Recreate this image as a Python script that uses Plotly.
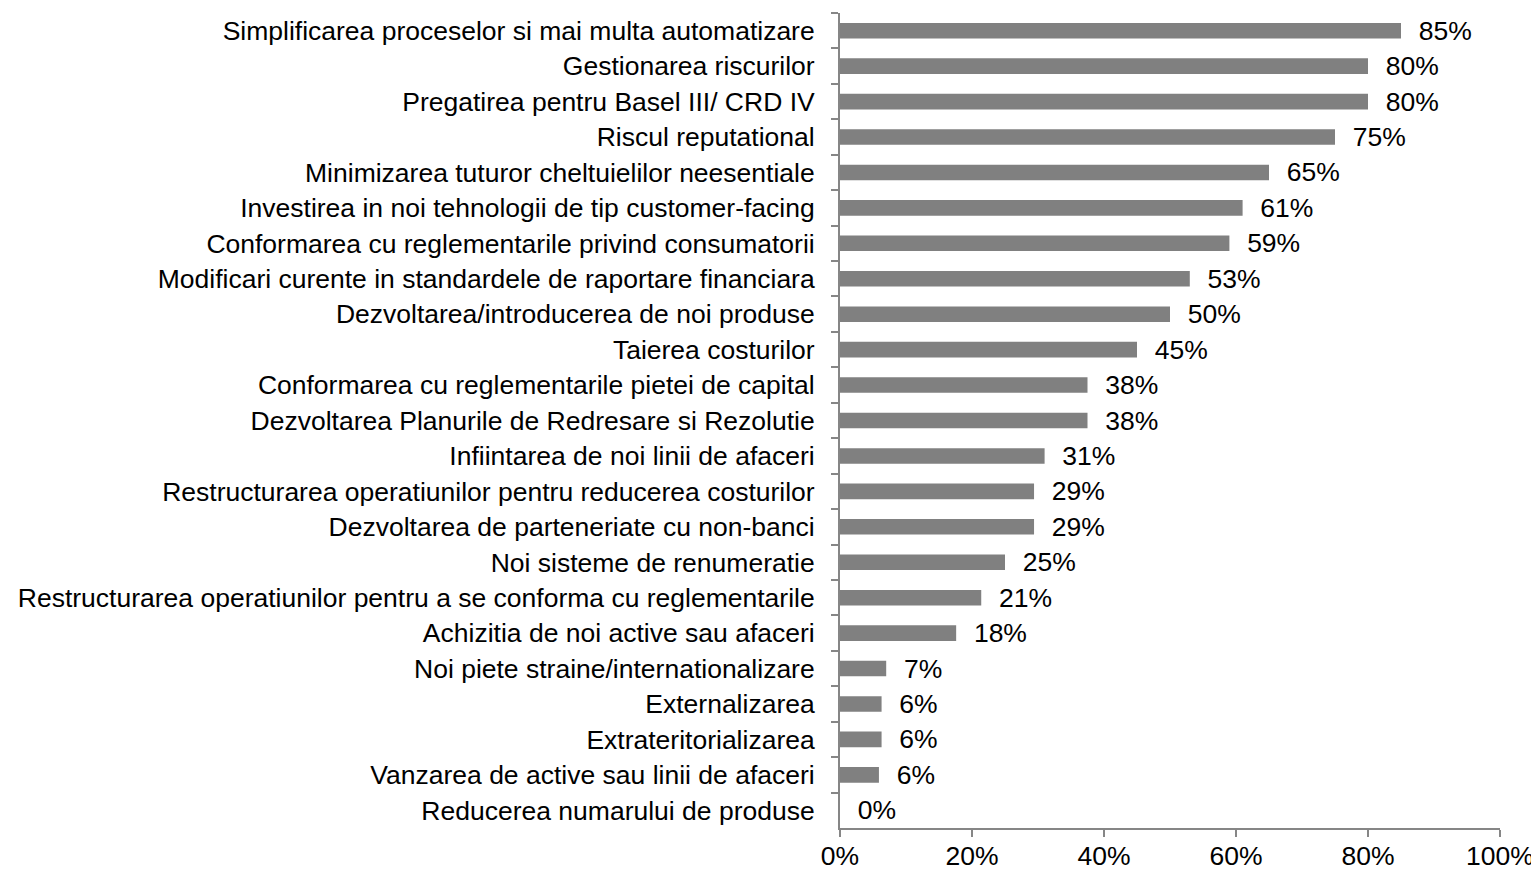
import plotly.graph_objects as go

categories = [
    "Simplificarea proceselor si mai multa automatizare",
    "Gestionarea riscurilor",
    "Pregatirea pentru Basel III/ CRD IV",
    "Riscul reputational",
    "Minimizarea tuturor cheltuielilor neesentiale",
    "Investirea in noi tehnologii de tip customer-facing",
    "Conformarea cu reglementarile privind consumatorii",
    "Modificari curente in standardele de raportare financiara",
    "Dezvoltarea/introducerea de noi produse",
    "Taierea costurilor",
    "Conformarea cu reglementarile pietei de capital",
    "Dezvoltarea Planurile de Redresare si Rezolutie",
    "Infiintarea de noi linii de afaceri",
    "Restructurarea operatiunilor pentru reducerea costurilor",
    "Dezvoltarea de parteneriate cu non-banci",
    "Noi sisteme de renumeratie",
    "Restructurarea operatiunilor pentru a se conforma cu reglementarile",
    "Achizitia de noi active sau afaceri",
    "Noi piete straine/internationalizare",
    "Externalizarea",
    "Extrateritorializarea",
    "Vanzarea de active sau linii de afaceri",
    "Reducerea numarului de produse",
]
values = [85, 80, 80, 75, 65, 61, 59, 53, 50, 45, 37.5, 37.5, 31, 29.4, 29.4, 25, 21.4, 17.6, 7, 6.3, 6.3, 5.9, 0]
value_labels = ["85%", "80%", "80%", "75%", "65%", "61%", "59%", "53%", "50%", "45%", "38%", "38%",
                "31%", "29%", "29%", "25%", "21%", "18%", "7%", "6%", "6%", "6%", "0%"]
x_ticks = [0, 20, 40, 60, 80, 100]
x_tick_labels = ["0%", "20%", "40%", "60%", "80%", "100%"]

FONT = "Arial, Liberation Sans, sans-serif"
AXIS_COLOR = "#868686"
FS = 26.5

fig = go.Figure(go.Bar(
    x=values,
    y=categories,
    orientation="h",
    marker=dict(color="#808080", line=dict(width=0)),
    text=["\u00a0\u00a0" + t for t in value_labels],
    textposition="outside",
    constraintext="none",
    cliponaxis=False,
    textfont=dict(family=FONT, size=FS, color="#000000"),
    hoverinfo="skip",
))

fig.update_layout(
    width=1531, height=863,
    margin=dict(l=832, r=39, t=5, b=43),
    paper_bgcolor="white", plot_bgcolor="white",
    bargap=0.56,
    showlegend=False,
    font=dict(family=FONT, size=FS, color="#000000"),
)
fig.update_xaxes(
    range=[0, 100],
    tickvals=x_ticks, ticktext=x_tick_labels,
    showgrid=False, zeroline=False,
    showline=True, linecolor=AXIS_COLOR, linewidth=2,
    ticks="outside", ticklen=7, tickwidth=2, tickcolor=AXIS_COLOR,
    tickfont=dict(family=FONT, size=FS, color="#000000"),
    ticklabelstandoff=-4,
    automargin=False,
)
fig.update_yaxes(
    autorange="reversed",
    type="category",
    showgrid=False, zeroline=False,
    showline=True, linecolor=AXIS_COLOR, linewidth=2,
    ticks="outside", tickson="boundaries", ticklen=7, tickwidth=2, tickcolor=AXIS_COLOR,
    tickfont=dict(family=FONT, size=FS, color="#000000"),
    ticklabelstandoff=18,
    automargin=False,
)

fig.write_html("out.html")
